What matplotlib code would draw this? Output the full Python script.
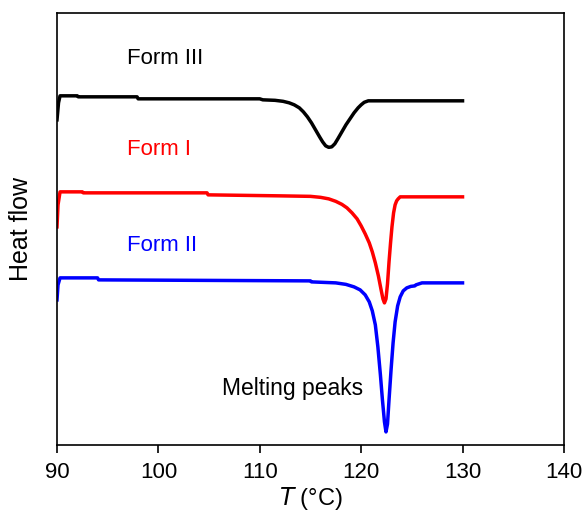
import numpy as np
import matplotlib
matplotlib.use("Agg")
import matplotlib.pyplot as plt

plt.rcParams['font.family'] = ['Liberation Sans', 'DejaVu Sans']

# DSC traces (T in degC, signal in arbitrary units, downward = endotherm)
form3_T = [90.0, 90.15, 90.3, 92.0, 92.1, 97.9, 98.0, 110.0, 110.3, 111.5, 112.3, 112.9, 113.4,
           113.9, 114.3, 114.7, 115.1, 115.5, 115.9, 116.2, 116.5, 116.8, 117.1, 117.4,
           117.7, 118.1, 118.5, 118.9, 119.3, 119.7, 120.0, 120.3, 120.7, 130.0]
form3_y = [120, 103, 96, 96, 97, 97, 99, 99, 100, 100.5, 101.5, 103, 105,
           108, 112, 117, 123, 130, 137, 142, 146, 147.5, 147, 144,
           139, 132, 125, 119, 113, 108, 105, 102.5, 101, 101]

form1_T = [90.0, 90.1, 90.3, 92.5, 92.6, 104.8, 104.9, 112.0, 115.0, 116.0, 116.8, 117.5, 118.1,
           118.6, 119.1, 119.6, 120.0, 120.4, 120.8, 121.1, 121.4, 121.7, 121.95, 122.15,
           122.3, 122.45, 122.6, 122.75, 122.9, 123.04, 123.2, 123.35, 123.5, 123.65, 123.85, 130.0]
form1_y = [227, 205, 192, 192, 193, 193, 195, 196, 196.5, 197.5, 199, 201.5, 204.5,
           208, 213, 219, 226, 234, 243, 252, 263, 276, 289, 299,
           303, 299, 284, 262, 243, 227, 213, 205, 201, 199, 197, 197]

form2_T = [90.0, 90.1, 90.3, 94.0, 94.1, 115.0, 115.1, 117.5, 118.5, 119.3, 119.9, 120.4, 120.8,
           121.1, 121.4, 121.65, 121.9, 122.1, 122.3, 122.45, 122.6, 122.75, 122.95, 123.15,
           123.35, 123.6, 123.85, 124.15, 124.5, 124.9, 125.3, 125.4, 126.0, 130.0]
form2_y = [300, 285, 278, 278, 280, 281, 282, 283, 284.5, 287, 290, 295, 302,
           311, 325, 347, 375, 400, 422, 432, 424, 400, 370, 343,
           322, 306, 297, 291, 288, 286.5, 286, 285, 283, 283]

x_ticks = [90, 100, 110, 120, 130, 140]

fig = plt.figure(figsize=(5.84, 5.12), dpi=100)
ax = fig.add_axes([0.0976, 0.131, 0.868, 0.844])

ax.plot(form3_T, form3_y, color='black', lw=2.5)
ax.plot(form1_T, form1_y, color='red', lw=2.5)
ax.plot(form2_T, form2_y, color='blue', lw=2.5)

ax.text(96.9, 64, 'Form III', color='black', fontsize=16, va='baseline')
ax.text(96.9, 155, 'Form I', color='red', fontsize=16, va='baseline')
ax.text(96.9, 251, 'Form II', color='blue', fontsize=16, va='baseline')
ax.text(106.3, 395, 'Melting peaks', color='black', fontsize=16.5, va='baseline')

ax.set_xlim(90, 140)
ax.set_ylim(445, 13)
ax.set_xticks(x_ticks)
ax.set_yticks([])
ax.tick_params(axis='x', direction='out', length=6, width=1.2, labelsize=16, pad=6)
for s in ax.spines.values():
    s.set_linewidth(1.2)

ax.set_xlabel(r'$\it{T}$ (°C)', fontsize=17, labelpad=2)
ax.set_ylabel('Heat flow', fontsize=18, labelpad=17)

plt.savefig('out.png', dpi=100)
